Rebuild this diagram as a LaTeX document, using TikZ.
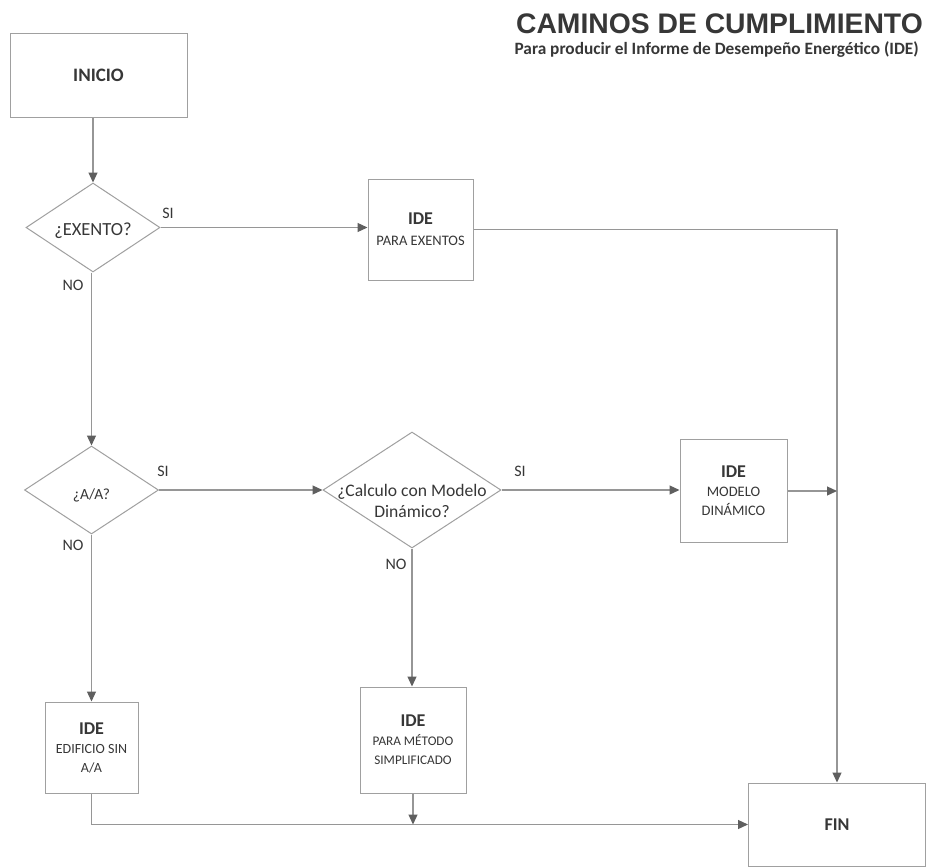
\documentclass[tikz,border=0pt]{standalone}
\usepackage{fontspec}
\setmainfont{Carlito}
\newfontfamily\titlefont{Liberation Sans}
\usetikzlibrary{arrows.meta,shapes.geometric}
\definecolor{linegray}{RGB}{150,150,150}
\definecolor{boxgray}{RGB}{160,160,160}
\definecolor{tipgray}{RGB}{95,95,95}
\definecolor{txtgray}{RGB}{55,55,55}
\newcommand\hdfont{\bfseries\fontsize{18}{19}\selectfont}
\newcommand\subfont{\fontsize{14.5}{19}\selectfont}
\newcommand\smallsubfont{\fontsize{13.2}{19}\selectfont}
\begin{document}
\begin{tikzpicture}[x=1pt,y=-1pt,
  line/.style={draw=linegray, line width=1.2pt},
  arr/.style={line, -{Triangle[length=10pt,width=9pt,color=tipgray]}},
  box/.style={draw=boxgray, line width=1pt, fill=white, align=center, text=txtgray, inner sep=0pt, font=\fontsize{14.5}{19}\selectfont},
  decision/.style={diamond, draw=boxgray, line width=1pt, fill=white, inner sep=0pt},
  qtext/.style={align=center, text=txtgray, inner sep=0pt},
  lbl/.style={text=txtgray, font=\fontsize{16}{18}\selectfont, inner sep=0pt}
]
\useasboundingbox[fill=white] (0,0) rectangle (927,868);

% title
\node[anchor=base east, inner sep=0pt, text=txtgray] (title) at (923,33)
  {\titlefont\bfseries\fontsize{28.3}{30}\selectfont CAMINOS DE CUMPLIMIENTO};
\node[anchor=base east, inner sep=0pt, text=txtgray] (subtitle) at (919,54)
  {\bfseries\fontsize{17.3}{19}\selectfont Para producir el Informe de Desempeño Energético (IDE)};

% boxes
\node[box, minimum width=177, minimum height=84, font=\bfseries\fontsize{19}{21}\selectfont] (ini) at (98.5,75) {INICIO};
\node[box, minimum width=105, minimum height=101] (exb) at (420.5,229.5)
  {\hdfont IDE\\[2pt]\subfont PARA EXENTOS};
\node[box, minimum width=107, minimum height=103] (mod) at (733.5,491)
  {\hdfont IDE\\\subfont MODELO\\\subfont DINÁMICO};
\node[box, minimum width=106, minimum height=106] (met) at (413,740)
  {\hdfont IDE\\\smallsubfont PARA MÉTODO\\\smallsubfont SIMPLIFICADO};
\node[box, minimum width=93, minimum height=91] (edi) at (91.5,747.5)
  {\hdfont IDE\\\fontsize{14}{19}\selectfont EDIFICIO SIN\\\fontsize{14}{19}\selectfont A/A};
\node[box, minimum width=177, minimum height=83, font=\bfseries\fontsize{18}{20}\selectfont] (fin) at (837,824.5) {FIN};

% decisions
\node[decision, minimum width=134, minimum height=89] (exq) at (93,227.5) {};
\node[qtext, font=\fontsize{18.5}{20}\selectfont] (exqt) at ([yshift=-3]exq.center) {¿EXENTO?};
\node[decision, minimum width=134, minimum height=88] (aaq) at (91.5,490) {};
\node[qtext, font=\fontsize{15.5}{17}\selectfont] (aaqt) at ([yshift=-5]aaq.center) {¿A/A?};
\node[decision, minimum width=178, minimum height=116] (clq) at (412,490) {};
\node[qtext, font=\fontsize{17.6}{21}\selectfont] (clqt) at ([yshift=-11]clq.center) {¿Calculo con Modelo\\Dinámico?};

% labels
\node[lbl] (si1) at (168,213) {SI};
\node[lbl] (no1) at (73,285) {NO};
\node[lbl] (si2) at (163,471) {SI};
\node[lbl] (no2) at (73,545) {NO};
\node[lbl] (si3) at (520,471) {SI};
\node[lbl] (no3) at (396,564) {NO};

% connectors
\draw[arr] (exq.north |- ini.south) -- (exq.north);
\draw[arr] (exq.east) -- (exq.east -| exb.west);
\draw[arr] (exb.east) -| (fin.north);
\draw[arr] (aaq.north |- exq.south) -- (aaq.north);
\draw[arr] (aaq.east) -- (clq.west);
\draw[arr] (clq.east) -- (clq.east -| mod.west);
\coordinate (mj) at (fin.north |- mod.east);
\draw[arr] (mod.east) -- (mj);
\draw[arr] (clq.south) -- (clq.south |- met.north);
\draw[arr] (aaq.south) -- (aaq.south |- edi.north);
\coordinate (bl) at (edi.south |- fin.west);
\draw[arr] (edi.south) -- (bl) -- (fin.west);
\coordinate (bm) at (met.south |- fin.west);
\draw[arr] (met.south) -- (bm);
\end{tikzpicture}
\end{document}
